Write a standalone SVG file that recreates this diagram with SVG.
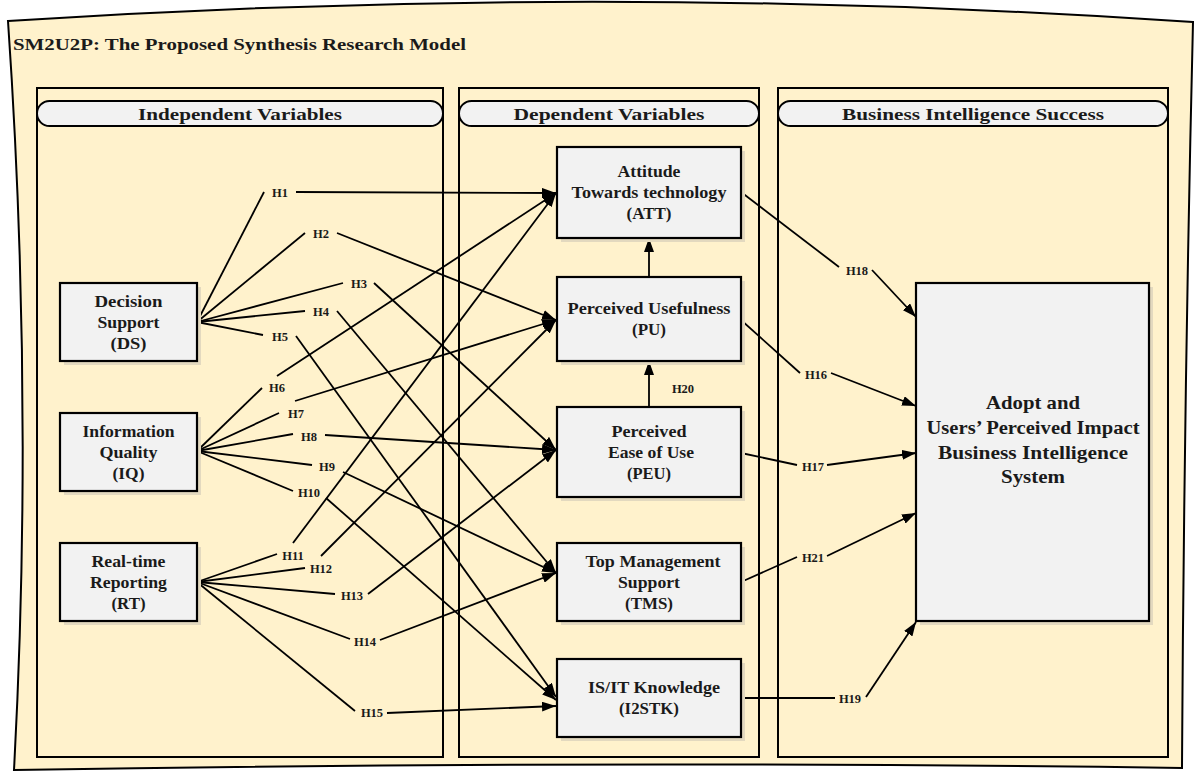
<svg xmlns="http://www.w3.org/2000/svg" width="1197" height="778" viewBox="0 0 1197 778">
<defs>
<marker id="arr" markerUnits="userSpaceOnUse" viewBox="0 0 14 10" refX="14" refY="5" markerWidth="14" markerHeight="10" orient="auto">
<path d="M0,0 L14,5 L0,10 z" fill="#000"/>
</marker>
<style>
.frame{fill:#fff2cc;stroke:#000;stroke-width:2}
.lane{fill:#fff2cc;stroke:#000;stroke-width:2}
.pill{fill:#f2f2f2;stroke:#000;stroke-width:2}
.box{fill:#f2f2f2;stroke:#000;stroke-width:2.2}
.shadow{fill:#e3d9bf}
.t{font-family:"Liberation Serif","DejaVu Serif",serif;font-weight:bold;fill:#1a1a1a;text-anchor:middle}
.bt{font-size:17px}
.big{font-size:19px}
.hd{font-size:17.5px}
.h{font-family:"Liberation Serif","DejaVu Serif",serif;font-weight:bold;font-size:12.5px;fill:#1a1a1a;text-anchor:middle}
.c{fill:none;stroke:#000;stroke-width:1.8}
.ca{fill:none;stroke:#000;stroke-width:1.8;marker-end:url(#arr)}
</style>
</defs>
<path class="frame" d="M8,21 Q600,-18 1193,22 Q1184,395 1182,768 Q600,760 14,770 Q34,400 8,21 z"/>
<text class="t hd" x="13" y="50" style="text-anchor:start" textLength="453" lengthAdjust="spacingAndGlyphs">SM2U2P: The Proposed Synthesis Research Model</text>

<g id="lane-independent">
<rect class="lane" x="37" y="88" width="406" height="669"/>
<rect class="pill" x="37" y="101" width="406" height="25" rx="12.5"/>
<text class="t hd" x="240" y="120" textLength="204" lengthAdjust="spacingAndGlyphs">Independent Variables</text>
</g>
<g id="lane-dependent">
<rect class="lane" x="459" y="88" width="300" height="669"/>
<rect class="pill" x="459" y="101" width="300" height="25" rx="12.5"/>
<text class="t hd" x="609" y="120" textLength="191" lengthAdjust="spacingAndGlyphs">Dependent Variables</text>
</g>
<g id="lane-bi">
<rect class="lane" x="778" y="88" width="390" height="669"/>
<rect class="pill" x="778" y="101" width="390" height="25" rx="12.5"/>
<text class="t hd" x="973" y="120" textLength="262" lengthAdjust="spacingAndGlyphs">Business Intelligence Success</text>
</g>

<g id="connectors">
<path class="c" d="M197,322 L264,192"/><path class="ca" d="M296,192 L556,193"/>
<path class="c" d="M197,322 L305,233"/><path class="ca" d="M337,233 L556,320"/>
<path class="c" d="M197,322 L343,283"/><path class="ca" d="M374,283 L556,450"/>
<path class="c" d="M197,322 L305,311"/><path class="ca" d="M337,311 L556,573"/>
<path class="c" d="M197,322 L263,335"/><path class="ca" d="M296,336 L556,697"/>
<path class="c" d="M197,451 L262,388"/><path class="ca" d="M277,376 L556,193"/>
<path class="c" d="M197,451 L279,413"/><path class="ca" d="M295,401 L556,320"/>
<path class="c" d="M197,451 L293,434"/><path class="ca" d="M325,435 L556,450"/>
<path class="c" d="M197,451 L312,465"/><path class="ca" d="M343,472 L556,573"/>
<path class="c" d="M197,451 L293,491"/><path class="ca" d="M326,498 L556,700"/>
<path class="c" d="M197,582 L277,554"/><path class="ca" d="M293,543 L556,193"/>
<path class="c" d="M197,582 L305,568"/><path class="ca" d="M321,556 L556,320"/>
<path class="c" d="M197,582 L335,594"/><path class="ca" d="M368,594 L556,450"/>
<path class="c" d="M197,582 L350,639"/><path class="ca" d="M380,640 L556,573"/>
<path class="c" d="M197,582 L355,711"/><path class="ca" d="M387,713 L556,706"/>
<path class="c" d="M741,192 L839,267"/><path class="ca" d="M872,270 L916,317"/>
<path class="c" d="M741,320 L800,373"/><path class="ca" d="M831,373 L916,406"/>
<path class="c" d="M741,453 L797,465"/><path class="ca" d="M827,465 L916,453"/>
<path class="c" d="M741,582 L797,557"/><path class="ca" d="M827,556 L916,513"/>
<path class="c" d="M741,698 L835,698"/><path class="ca" d="M866,697 L916,622"/>
<path class="ca" d="M649,407 L649,361"/>
<path class="ca" d="M649,277 L649,238"/>
<g>
<text class="h" x="280" y="196.5">H1</text>
<text class="h" x="321" y="237.5">H2</text>
<text class="h" x="359" y="287.5">H3</text>
<text class="h" x="321" y="315.5">H4</text>
<text class="h" x="280" y="340.5">H5</text>
<text class="h" x="277" y="391.5">H6</text>
<text class="h" x="296" y="417.5">H7</text>
<text class="h" x="309" y="440.5">H8</text>
<text class="h" x="327" y="470.5">H9</text>
<text class="h" x="309" y="496.5">H10</text>
<text class="h" x="293" y="559.5">H11</text>
<text class="h" x="321" y="572.5">H12</text>
<text class="h" x="352" y="599.5">H13</text>
<text class="h" x="365" y="645.5">H14</text>
<text class="h" x="372" y="716.5">H15</text>
<text class="h" x="816" y="378.5">H16</text>
<text class="h" x="813" y="470.5">H17</text>
<text class="h" x="857" y="274.5">H18</text>
<text class="h" x="850" y="702.5">H19</text>
<text class="h" x="683" y="392.5">H20</text>
<text class="h" x="813" y="561.5">H21</text>
</g>
</g>

<g id="node-ds">
<rect class="shadow" x="64" y="287" width="137" height="78"/>
<rect class="box" x="60" y="283" width="137" height="78"/>
<text class="t bt" x="128.5" y="307" textLength="68" lengthAdjust="spacingAndGlyphs">Decision</text>
<text class="t bt" x="128.5" y="328" textLength="62" lengthAdjust="spacingAndGlyphs">Support</text>
<text class="t bt" x="128.5" y="349" textLength="36" lengthAdjust="spacingAndGlyphs">(DS)</text>
</g>
<g id="node-iq">
<rect class="shadow" x="64" y="417" width="137" height="78"/>
<rect class="box" x="60" y="413" width="137" height="78"/>
<text class="t bt" x="128.5" y="437" textLength="92" lengthAdjust="spacingAndGlyphs">Information</text>
<text class="t bt" x="128.5" y="458" textLength="58" lengthAdjust="spacingAndGlyphs">Quality</text>
<text class="t bt" x="128.5" y="479" textLength="32" lengthAdjust="spacingAndGlyphs">(IQ)</text>
</g>
<g id="node-rt">
<rect class="shadow" x="64" y="547" width="137" height="78"/>
<rect class="box" x="60" y="543" width="137" height="78"/>
<text class="t bt" x="128.5" y="567" textLength="74" lengthAdjust="spacingAndGlyphs">Real-time</text>
<text class="t bt" x="128.5" y="588" textLength="77" lengthAdjust="spacingAndGlyphs">Reporting</text>
<text class="t bt" x="128.5" y="609" textLength="34" lengthAdjust="spacingAndGlyphs">(RT)</text>
</g>
<g id="node-att">
<rect class="shadow" x="561" y="151" width="184" height="91"/>
<rect class="box" x="557" y="147" width="184" height="91"/>
<text class="t bt" x="649" y="177" textLength="63" lengthAdjust="spacingAndGlyphs">Attitude</text>
<text class="t bt" x="649" y="198" textLength="155" lengthAdjust="spacingAndGlyphs">Towards technology</text>
<text class="t bt" x="649" y="219" textLength="45" lengthAdjust="spacingAndGlyphs">(ATT)</text>
</g>
<g id="node-pu">
<rect class="shadow" x="561" y="281" width="184" height="84"/>
<rect class="box" x="557" y="277" width="184" height="84"/>
<text class="t bt" x="649" y="314" textLength="163" lengthAdjust="spacingAndGlyphs">Perceived Usefulness</text>
<text class="t bt" x="649" y="335" textLength="34" lengthAdjust="spacingAndGlyphs">(PU)</text>
</g>
<g id="node-peu">
<rect class="shadow" x="561" y="411" width="184" height="90"/>
<rect class="box" x="557" y="407" width="184" height="90"/>
<text class="t bt" x="649" y="437" textLength="75" lengthAdjust="spacingAndGlyphs">Perceived</text>
<text class="t bt" x="651" y="458" textLength="86" lengthAdjust="spacingAndGlyphs">Ease of Use</text>
<text class="t bt" x="649" y="479" textLength="44" lengthAdjust="spacingAndGlyphs">(PEU)</text>
</g>
<g id="node-tms">
<rect class="shadow" x="561" y="547" width="184" height="78"/>
<rect class="box" x="557" y="543" width="184" height="78"/>
<text class="t bt" x="653" y="567" textLength="135" lengthAdjust="spacingAndGlyphs">Top Management</text>
<text class="t bt" x="649" y="588" textLength="62" lengthAdjust="spacingAndGlyphs">Support</text>
<text class="t bt" x="649" y="609" textLength="48" lengthAdjust="spacingAndGlyphs">(TMS)</text>
</g>
<g id="node-i2stk">
<rect class="shadow" x="561" y="663" width="184" height="78"/>
<rect class="box" x="557" y="659" width="184" height="78"/>
<text class="t bt" x="654" y="693" textLength="132" lengthAdjust="spacingAndGlyphs">IS/IT Knowledge</text>
<text class="t bt" x="649" y="714" textLength="60" lengthAdjust="spacingAndGlyphs">(I2STK)</text>
</g>
<g id="node-bi">
<rect class="shadow" x="920" y="287" width="233" height="338"/>
<rect class="box" x="916" y="283" width="233" height="338"/>
<text class="t big" x="1033" y="409" textLength="94" lengthAdjust="spacingAndGlyphs">Adopt and</text>
<text class="t big" x="1033" y="434" textLength="213" lengthAdjust="spacingAndGlyphs">Users’ Perceived Impact</text>
<text class="t big" x="1033" y="459" textLength="190" lengthAdjust="spacingAndGlyphs">Business Intelligence</text>
<text class="t big" x="1033" y="483" textLength="64" lengthAdjust="spacingAndGlyphs">System</text>
</g>
</svg>
